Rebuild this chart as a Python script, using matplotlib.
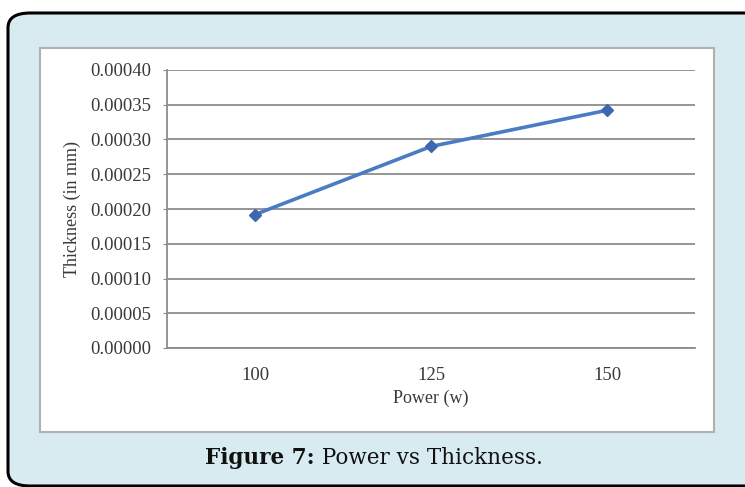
import matplotlib
matplotlib.use('Agg')
import matplotlib.pyplot as plt
from matplotlib.patches import FancyBboxPatch, Rectangle
from matplotlib.ticker import FormatStrFormatter

# power levels and measured coating thickness
power = ['100', '125', '150']
thickness = [0.000192, 0.000290, 0.000342]

W, H = 745, 487
fig = plt.figure(figsize=(W / 100, H / 100), dpi=100)
fig.patch.set_facecolor('white')


def px(x, y):
    # pixel position from top-left -> figure fraction
    return x / W, 1 - y / H


# light blue panel with rounded black border
panel = FancyBboxPatch(px(8, 486), 760 / W, 473 / H,
                       boxstyle='round,pad=0,rounding_size=0.03',
                       transform=fig.transFigure, facecolor='#d8ebf1',
                       edgecolor='black', linewidth=2.2, zorder=0)
fig.patches.append(panel)

# white chart area
chart_box = Rectangle(px(40, 432), 674 / W, 384 / H, transform=fig.transFigure,
                      facecolor='white', edgecolor='#b0b0b0', linewidth=1.5, zorder=1)
fig.patches.append(chart_box)

ax = fig.add_axes([167 / W, 139 / H, 528 / W, 278 / H])
ax.set_facecolor('none')
ax.set_zorder(2)

x = range(len(power))
ax.plot(x, thickness, color='#4a7cc4', linewidth=2.6, marker='D',
        markersize=6.5, markerfacecolor='#3d68b0', markeredgecolor='#3d68b0')

ax.set_xlim(-0.5, 2.5)
ax.set_ylim(0, 0.0004)
ax.set_yticks([i * 0.00005 for i in range(9)])
ax.yaxis.set_major_formatter(FormatStrFormatter('%.5f'))
ax.set_xticks(list(x))
ax.set_xticklabels(power)

ax.grid(axis='y', color='#8c8c8c', linewidth=1.3)
ax.set_axisbelow(True)
for s in ['top', 'right']:
    ax.spines[s].set_visible(False)
for s in ['left', 'bottom']:
    ax.spines[s].set_color('#8c8c8c')
    ax.spines[s].set_linewidth(1.3)

serif = 'Liberation Serif'
ax.tick_params(axis='y', length=3, color='#8c8c8c', pad=8,
               labelsize=13.5, labelcolor='#3a3a3a')
ax.tick_params(axis='x', length=0, pad=14, labelsize=13.5, labelcolor='#3a3a3a')
for lbl in ax.get_xticklabels() + ax.get_yticklabels():
    lbl.set_family(serif)

fig.text(*px(431, 398), 'Power (w)', family=serif, fontsize=13,
         color='#3a3a3a', ha='center', va='center')
fig.text(*px(72, 209), 'Thickness (in mm)', family=serif, fontsize=13,
         color='#3a3a3a', ha='center', va='center', rotation=90)

# caption: bold label followed by regular text
cap = fig.text(*px(205, 464), 'Figure 7:', family='DejaVu Serif', fontsize=15.5,
               fontweight='bold', color='#111111', ha='left', va='baseline')
ax.annotate(' Power vs Thickness.', xy=(1, 0), xycoords=cap,
            family='DejaVu Serif', fontsize=15.5, color='#111111',
            ha='left', va='bottom', annotation_clip=False)

fig.savefig('out.png', dpi=100)
